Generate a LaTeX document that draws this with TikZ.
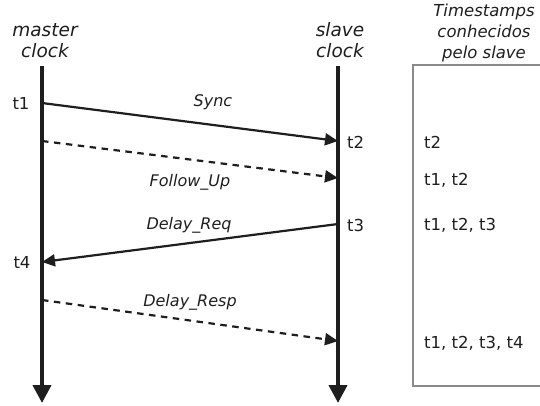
\documentclass[tikz,border=0pt]{standalone}
\usepackage{fontspec}
\setmainfont{DejaVu Sans}
\usetikzlibrary{arrows.meta}
\definecolor{ink}{HTML}{1E1E1E}
\definecolor{boxline}{HTML}{8A8A8A}
\begin{document}
\begin{tikzpicture}[x=1pt,y=-1pt,
  lifeline/.style={line width=4pt,-{Triangle[length=18pt,width=18pt]},draw=ink},
  msg/.style={line width=2.2pt,-{Triangle[length=13pt,width=12pt]},draw=ink},
  dashmsg/.style={msg,dash pattern=on 6.5pt off 5.5pt},
  head/.style={font=\fontsize{18.5}{21}\selectfont\itshape,text=ink,align=center,inner sep=0pt},
  thead/.style={font=\fontsize{16.5}{21}\selectfont\itshape,text=ink,align=center,inner sep=0pt},
  lbl/.style={font=\fontsize{16}{18}\selectfont\itshape,text=ink,inner sep=0pt},
  stamp/.style={font=\fontsize{16.5}{18}\selectfont,text=ink,inner sep=0pt},
  known/.style={stamp,anchor=west}]
\useasboundingbox (0,0) rectangle (540,405);
\clip (0,0) rectangle (540,405);

% lifelines
\coordinate (mtop) at (42,66);
\coordinate (mbot) at (42,403);
\coordinate (stop) at (338,66);
\coordinate (sbot) at (338,403);
\draw[lifeline] (mtop) -- (mbot);
\draw[lifeline] (stop) -- (sbot);

\node[head] (hm1) at (45,30) {master};
\node[head] (hm2) at (45,51) {clock};
\node[head] (hs1) at (340,30) {slave};
\node[head] (hs2) at (340,51) {clock};

% message end points on the lifelines
\coordinate (t1m) at (42,103);
\coordinate (t2s) at (338,141);
\coordinate (fum) at (42,141);
\coordinate (fus) at (338,178);
\coordinate (t3s) at (338,224);
\coordinate (t4m) at (42,262);
\coordinate (drm) at (42,300);
\coordinate (drs) at (338,341);

\draw[msg] (t1m) -- (t2s);
\draw[dashmsg] (fum) -- (fus);
\draw[msg] (t3s) -- (t4m);
\draw[dashmsg] (drm) -- (drs);

\node[lbl] (lsync) at (213,102) {Sync};
\node[lbl] (lfu) at (190,182) {Follow\_Up};
\node[lbl] (ldreq) at (189,225) {Delay\_Req};
\node[lbl] (ldresp) at (190,302) {Delay\_Resp};

\node[stamp] (lt1) at (21,103) {t1};
\node[stamp,anchor=west] (lt2) at (347,142) {t2};
\node[stamp,anchor=west] (lt3) at (347,225) {t3};
\node[stamp] (lt4) at (22,262) {t4};

% timestamps known by the slave
\node[thead] (ht) at (484,33) {Timestamps\\conhecidos\\pelo slave};
\draw[boxline,line width=1.3pt] (413,65) rectangle (560,386);
\node[known] (k1) at (424,142) {t2};
\node[known] (k2) at (424,180) {t1, t2};
\node[known] (k3) at (424,225) {t1, t2, t3};
\node[known] (k4) at (424,343) {t1, t2, t3, t4};
\end{tikzpicture}
\end{document}
